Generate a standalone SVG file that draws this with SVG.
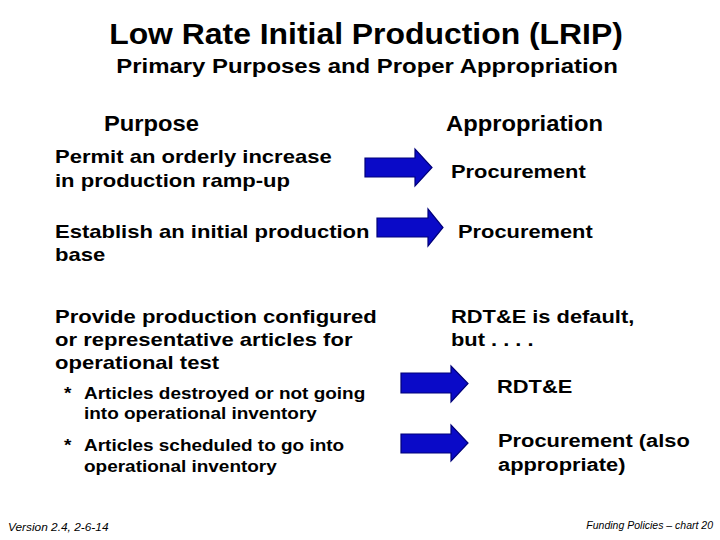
<svg xmlns="http://www.w3.org/2000/svg" width="720" height="540" viewBox="0 0 720 540">
<style>
text{font-family:"Liberation Sans",Arial,sans-serif;fill:#000}
.t{font-size:29px;font-weight:bold}
.st{font-size:21px;font-weight:bold}
.h{font-size:22px;font-weight:bold}
.b{font-size:19px;font-weight:bold}
.s{font-size:16.5px;font-weight:bold}
.f{font-size:11px;font-style:italic}
.arr{fill:#0a0ac8;stroke:#00007a;stroke-width:1.2}
</style>
<rect width="720" height="540" fill="#fff"/>
<g id="title">
<g transform="translate(366,0) scale(1.1,1)"><text class="t" x="0" y="44" text-anchor="middle">Low Rate Initial Production (LRIP)</text></g>
<g transform="translate(367,0) scale(1.14,1)"><text class="st" x="0" y="73" text-anchor="middle">Primary Purposes and Proper Appropriation</text></g>
</g>
<g id="headings">
<g transform="translate(104,0) scale(1.08,1)"><text class="h" x="0" y="131">Purpose</text></g>
<g transform="translate(446,0) scale(1.08,1)"><text class="h" x="0" y="131">Appropriation</text></g>
</g>
<g id="purpose1" transform="translate(55,0) scale(1.16,1)"><text class="b" x="0" y="163">Permit an orderly increase</text><text class="b" x="0" y="187">in production ramp-up</text></g>
<g id="purpose2" transform="translate(55,0) scale(1.16,1)"><text class="b" x="0" y="238">Establish an initial production</text><text class="b" x="0" y="261">base</text></g>
<g id="purpose3" transform="translate(55,0) scale(1.16,1)"><text class="b" x="0" y="323">Provide production configured</text><text class="b" x="0" y="346">or representative articles for</text><text class="b" x="0" y="369">operational test</text></g>
<g id="sub1" transform="translate(64,0) scale(1.15,1)"><text class="s" x="0" y="399">*</text><text class="s" x="17.4" y="399">Articles destroyed or not going</text><text class="s" x="17.4" y="419">into operational inventory</text></g>
<g id="sub2" transform="translate(64,0) scale(1.15,1)"><text class="s" x="0" y="451">*</text><text class="s" x="17.4" y="451">Articles scheduled to go into</text><text class="s" x="17.4" y="472">operational inventory</text></g>
<g id="approp1" transform="translate(451,0) scale(1.15,1)"><text class="b" x="0" y="178">Procurement</text></g>
<g id="approp2" transform="translate(458,0) scale(1.15,1)"><text class="b" x="0" y="238">Procurement</text></g>
<g id="approp3" transform="translate(451,0) scale(1.15,1)"><text class="b" x="0" y="323">RDT&amp;E is default,</text><text class="b" x="0" y="346">but . . . .</text></g>
<g id="approp4" transform="translate(497,0) scale(1.15,1)"><text class="b" x="0" y="393">RDT&amp;E</text></g>
<g id="approp5" transform="translate(498,0) scale(1.15,1)"><text class="b" x="0" y="447">Procurement (also</text><text class="b" x="0" y="471">appropriate)</text></g>
<g id="connectors">
<path class="arr" d="M365,158 H415 V149 L432,167.5 L415,186 V177 H365 Z"/>
<path class="arr" d="M377,218 H428 V209 L443,227.5 L428,246 V237 H377 Z"/>
<path class="arr" d="M401,373 H451 V366 L468,383.5 L451,402 V393 H401 Z"/>
<path class="arr" d="M401,434 H451 V425 L468,443 L451,461 V453 H401 Z"/>
</g>
<g id="footer">
<g transform="translate(8,0) scale(1.08,1)"><text class="f" x="0" y="531">Version 2.4, 2-6-14</text></g>
<g transform="translate(713,0) scale(0.955,1)"><text class="f" x="0" y="529" text-anchor="end">Funding Policies – chart 20</text></g>
</g>
</svg>
